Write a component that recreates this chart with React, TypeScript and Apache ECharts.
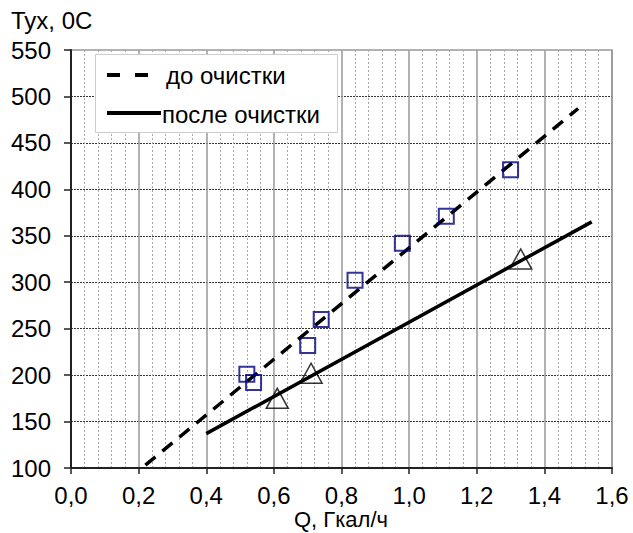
import React, { useEffect, useRef } from "react";
import * as echarts from "echarts";

// Regression lines (endpoints) for the two states of the heat exchanger
const beforeLine: [number, number][] = [
  [0.22, 103],
  [1.5, 487],
];
const afterLine: [number, number][] = [
  [0.4, 137],
  [1.54, 365],
];

// Measured points
const beforePoints: [number, number][] = [
  [0.52, 201],
  [0.54, 192],
  [0.7, 232],
  [0.74, 260],
  [0.84, 302],
  [0.98, 342],
  [1.11, 371],
  [1.3, 421],
];
const afterPoints: [number, number][] = [
  [0.61, 175],
  [0.71, 202],
  [1.33, 325],
];

const seriesNames = ["до очистки", "после очистки"];
const xTitle = "Q, Гкал/ч";
const yTitle = "Тух, 0С";

const FONT = "'Liberation Sans', Arial, sans-serif";
const FS = 24;

export default function App() {
  const ref = useRef<HTMLDivElement>(null);

  useEffect(() => {
    if (!ref.current) return;
    const chart = echarts.init(ref.current, undefined, { renderer: "svg" });
    chart.setOption({
      animation: false,
      backgroundColor: "#fff",
      textStyle: { fontFamily: FONT },
      grid: {
        left: 71,
        top: 50,
        right: 21,
        bottom: 65,
        outerBoundsMode: "none",
        containLabel: false,
        show: true,
        borderColor: "#999",
        borderWidth: 1.5,
        backgroundColor: "#fff",
      },
      graphic: [
        {
          type: "text",
          left: 11,
          top: 8,
          style: { text: yTitle, fontSize: FS, fill: "#000", fontFamily: FONT },
        },
        {
          type: "text",
          x: 341,
          y: 519,
          style: {
            text: xTitle,
            fontSize: 22,
            fill: "#000",
            fontFamily: FONT,
            align: "center",
            verticalAlign: "middle",
          },
        },
        // legend box
        {
          type: "rect",
          z: 10,
          shape: { x: 95.5, y: 54.5, width: 242, height: 78 },
          style: { fill: "#fff", stroke: "#ccc", lineWidth: 1 },
        },
        {
          type: "line",
          z: 11,
          shape: { x1: 107, y1: 75, x2: 160, y2: 75 },
          style: { stroke: "#000", lineWidth: 4, lineDash: [13, 15] },
        },
        {
          type: "text",
          z: 11,
          x: 166,
          y: 75,
          style: {
            text: seriesNames[0],
            fontSize: FS,
            fill: "#000",
            fontFamily: FONT,
            verticalAlign: "middle",
          },
        },
        {
          type: "line",
          z: 11,
          shape: { x1: 107, y1: 113, x2: 161, y2: 113 },
          style: { stroke: "#000", lineWidth: 4 },
        },
        {
          type: "text",
          z: 11,
          x: 162,
          y: 114,
          style: {
            text: seriesNames[1],
            fontSize: FS,
            fill: "#000",
            fontFamily: FONT,
            verticalAlign: "middle",
          },
        },
      ],
      xAxis: {
        type: "value",
        min: 0,
        max: 1.6,
        interval: 0.2,
        axisLine: { show: true, onZero: false, lineStyle: { color: "#222", width: 2 } },
        axisTick: { show: true, length: 6, lineStyle: { color: "#222", width: 1.5 } },
        axisLabel: {
          fontSize: FS,
          color: "#000",
          margin: 15,
          formatter: (v: number) => v.toFixed(1).replace(".", ","),
        },
        splitLine: { show: true, lineStyle: { color: "#999", width: 1.5 } },
        minorTick: { show: false, splitNumber: 5 },
        minorSplitLine: { show: true, lineStyle: { color: "#aaa", width: 1, type: [2, 2] } },
      },
      yAxis: {
        type: "value",
        min: 100,
        max: 550,
        interval: 50,
        axisLine: { show: true, onZero: false, lineStyle: { color: "#222", width: 2 } },
        axisTick: { show: true, length: 7, lineStyle: { color: "#222", width: 1.5 } },
        axisLabel: { fontSize: FS, color: "#000", margin: 20 },
        splitLine: {
          show: true,
          showMaxLine: false,
          lineStyle: { color: "#333", width: 1, type: [2, 1] },
        },
      },
      series: [
        {
          name: seriesNames[0],
          type: "line",
          data: beforeLine,
          symbol: "none",
          lineStyle: { color: "#000", width: 3.5, type: [13, 9] },
          z: 3,
        },
        {
          name: seriesNames[1],
          type: "line",
          data: afterLine,
          symbol: "none",
          lineStyle: { color: "#000", width: 3.5, type: "solid" },
          z: 3,
        },
        {
          name: "points-before",
          type: "scatter",
          data: beforePoints,
          symbol: "rect",
          symbolSize: 15,
          itemStyle: { color: "rgba(0,0,0,0)", borderColor: "#000080", borderWidth: 2 },
          z: 4,
        },
        {
          name: "points-after",
          type: "scatter",
          data: afterPoints,
          symbol: "triangle",
          symbolSize: [22, 20],
          itemStyle: { color: "rgba(0,0,0,0)", borderColor: "#000", borderWidth: 1.5 },
          z: 4,
        },
      ],
    });
    return () => chart.dispose();
  }, []);

  return (
    <div
      ref={ref}
      style={{ position: "fixed", left: 0, top: 0, width: 633, height: 533 }}
    />
  );
}
